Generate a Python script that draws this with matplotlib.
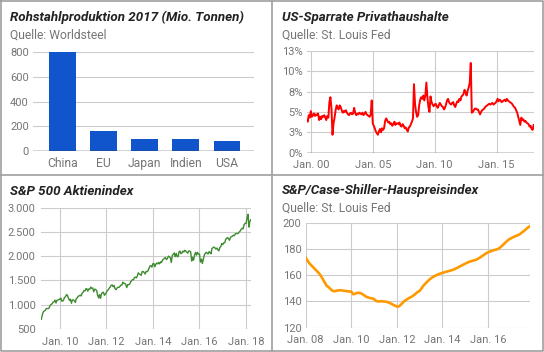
import numpy as np
import pandas as pd
import matplotlib
matplotlib.use("Agg")
import matplotlib.pyplot as plt
import matplotlib.dates as mdates
from matplotlib.lines import Line2D

plt.rcParams['font.family'] = ['Roboto', 'DejaVu Sans']

# --- data -------------------------------------------------------------
steel_countries = ['China', 'EU', 'Japan', 'Indien', 'USA']
steel_output = [800, 163, 98, 98, 81]

# US personal saving rate in %, monthly from Sep 1999
saving_rate = [
    4.0, 3.8, 4.6, 4.3,                                         # 1999 Sep-Dec
    5.1, 4.4, 4.6, 4.8, 4.5, 4.7, 4.6, 4.8, 4.0, 4.4, 4.1, 4.5,  # 2000
    4.4, 4.6, 4.3, 4.0, 4.5, 4.3, 6.2, 6.8, 5.4, 2.2, 3.6, 4.3,  # 2001
    5.2, 5.8, 5.5, 5.3, 5.8, 5.6, 5.2, 4.9, 5.1, 5.0, 5.2, 4.9,  # 2002
    4.7, 4.6, 4.8, 4.9, 4.7, 4.8, 5.5, 4.9, 4.6, 4.8, 4.7, 4.9,  # 2003
    4.8, 4.7, 4.9, 4.6, 4.8, 5.0, 4.7, 4.6, 4.5, 4.4, 4.7, 6.4,  # 2004
    3.6, 3.3, 3.0, 2.6, 2.4, 2.2, 2.6, 2.9, 2.5, 3.0, 2.8, 3.0,  # 2005
    3.9, 4.2, 4.0, 3.7, 3.8, 3.5, 3.6, 3.3, 3.5, 3.8, 3.4, 3.6,  # 2006
    3.6, 3.5, 3.7, 3.3, 3.2, 3.5, 3.3, 3.0, 3.1, 2.8, 2.6, 3.1,  # 2007
    3.2, 3.5, 3.8, 4.2, 8.4, 6.0, 5.0, 4.4, 4.6, 5.8, 6.5, 6.8,  # 2008
    6.6, 7.0, 6.4, 7.0, 8.6, 6.8, 5.6, 5.0, 6.9, 6.2, 5.9, 5.7,  # 2009
    5.9, 6.0, 5.7, 5.5, 5.8, 6.1, 5.9, 5.7, 5.6, 5.3, 5.5, 5.9,  # 2010
    6.4, 6.6, 6.2, 6.0, 5.9, 6.1, 6.2, 5.8, 5.6, 6.0, 6.3, 6.2,  # 2011
    6.6, 6.4, 6.9, 7.0, 7.2, 7.7, 7.4, 7.0, 7.6, 8.0, 8.6, 11.0, # 2012
    4.9, 5.0, 5.2, 5.4, 5.4, 5.3, 5.3, 5.0, 4.7, 5.0, 5.2, 5.3,  # 2013
    5.4, 5.6, 5.7, 5.8, 5.9, 6.0, 5.9, 6.0, 6.1, 5.9, 6.0, 6.1,  # 2014
    6.3, 6.6, 6.3, 6.5, 6.4, 6.2, 6.3, 6.4, 6.5, 6.3, 6.6, 6.4,  # 2015
    6.3, 6.2, 6.1, 6.0, 5.8, 5.6, 5.5, 5.2, 4.9, 4.4, 3.9, 3.4,  # 2016
    4.3, 4.0, 4.1, 3.8, 3.9, 3.7, 3.6, 3.5, 3.2, 3.3, 2.9, 2.8,  # 2017
    3.4,                                                         # 2018 Jan
]

# S&P 500, semi-monthly (1st / 15th) from mid-March 2009
sp500 = [
    700, 798, 852, 873, 882, 919, 923, 919, 932, 987, 1005, 1021,
    1053, 1057, 1096, 1036, 1093, 1096, 1108, 1115,
    1136, 1074, 1075, 1104, 1150, 1169, 1211, 1187, 1136, 1089, 1115, 1031,
    1096, 1102, 1080, 1049, 1125, 1141, 1176, 1183, 1197, 1181, 1236, 1258,
    1293, 1286, 1332, 1327, 1281, 1326, 1320, 1364, 1338, 1345, 1266, 1321,
    1316, 1292, 1204, 1140, 1209, 1131, 1224, 1253, 1257, 1195, 1216, 1258,
    1289, 1312, 1343, 1366, 1402, 1408, 1370, 1398, 1330, 1310, 1343, 1362,
    1357, 1379, 1405, 1407, 1465, 1441, 1440, 1412, 1353, 1416, 1413, 1426,
    1472, 1498, 1519, 1515, 1560, 1569, 1553, 1598, 1658, 1631, 1626, 1606,
    1682, 1686, 1661, 1633, 1688, 1682, 1698, 1757, 1798, 1806, 1775, 1848,
    1848, 1783, 1838, 1859, 1841, 1872, 1842, 1884, 1870, 1924, 1937, 1960,
    1973, 1931, 1955, 2003, 1984, 1972, 1870, 2018, 2039, 2068, 1990, 2059,
    1992, 1995, 2097, 2105, 2053, 2068, 2106, 2086, 2123, 2107, 2084, 2063,
    2108, 2104, 2092, 1900, 1979, 1920, 2023, 2079, 2023, 2080, 2043, 2044,
    1880, 1940, 1850, 1932, 2016, 2060, 2081, 2065, 2047, 2097, 2072, 2050,
    2162, 2174, 2190, 2171, 2147, 2168, 2133, 2110, 2180, 2199, 2262, 2239,
    2275, 2279, 2349, 2364, 2385, 2363, 2329, 2384, 2402, 2412, 2433, 2423,
    2459, 2470, 2465, 2472, 2500, 2519, 2553, 2575, 2565, 2648, 2676, 2674,
    2777, 2862, 2600, 2714, 2750,
]

# S&P/Case-Shiller house price index, monthly from Jan 2008
case_shiller = [
    173.2, 171.0, 169.0, 167.5, 166.0, 164.5, 163.0, 161.5, 159.5, 157.0, 154.5, 152.0,
    151.0, 149.5, 148.3, 147.8, 148.0, 148.4, 148.6, 148.4, 148.2, 148.0, 147.8, 147.6,
    147.5, 145.5, 145.8, 146.5, 146.6, 146.3, 145.5, 144.5, 143.5, 143.0, 142.6, 142.3,
    141.8, 140.5, 140.0, 140.1, 140.2, 140.0, 139.9, 139.6, 139.0, 138.3, 137.5, 136.8,
    136.2, 136.1, 137.3, 138.8, 140.3, 141.3, 142.2, 143.0, 143.8, 144.8, 146.0, 147.3,
    148.0, 150.0, 152.0, 153.5, 155.0, 156.4, 157.6, 158.6, 159.4, 160.1, 160.8, 161.3,
    161.7, 162.2, 162.6, 163.0, 163.4, 163.8, 164.3, 165.0, 165.7, 166.5, 167.3, 168.0,
    168.8, 169.5, 170.1, 170.6, 171.0, 171.4, 171.9, 172.7, 173.6, 174.6, 175.6, 176.6,
    177.4, 178.0, 178.5, 179.0, 179.4, 179.8, 180.6, 181.8, 183.2, 184.6, 186.0, 187.2,
    188.0, 188.8, 189.4, 190.0, 190.6, 191.4, 192.6, 193.8, 195.0, 196.2, 197.3,
]

saving_dates = pd.date_range("1999-09-01", periods=len(saving_rate), freq="MS")
sp_dates = pd.date_range("2009-03-15", periods=len(sp500), freq="SMS")
cs_dates = pd.date_range("2008-01-01", periods=len(case_shiller), freq="MS")

# --- layout helpers ---------------------------------------------------
W, H = 544, 352
fig = plt.figure(figsize=(W / 100, H / 100), dpi=100)

GRID = '#cccccc'
LABEL = '#757575'
TITLE = '#222222'


def add_panel(x0, x1, ytop, ybot):
    ax = fig.add_axes([x0 / W, 1 - ybot / H, (x1 - x0) / W, (ybot - ytop) / H])
    ax.set_facecolor('none')
    for s in ax.spines.values():
        s.set_visible(False)
    ax.tick_params(length=0, labelsize=8, labelcolor=LABEL)
    ax.grid(True, color=GRID, linewidth=0.8)
    ax.set_axisbelow(True)
    return ax


def titles(x, ybase, title, sub=None):
    fig.text(x / W, 1 - ybase / H, title, fontsize=9.6, fontweight='bold',
             fontstyle='italic', color=TITLE, va='baseline', ha='left')
    if sub:
        fig.text(x / W, 1 - (ybase + 17.6) / H, sub, fontsize=8.7,
                 color=LABEL, va='baseline', ha='left')


def date_ticks(ax, years, fmt):
    pos = [mdates.date2num(pd.Timestamp(f"{y}-01-01")) for y in years]
    ax.set_xticks(pos)
    ax.set_xticklabels([fmt(y) for y in years])


# --- panel 1: steel ---------------------------------------------------
ax1 = add_panel(33, 254, 52.3, 151)
ax1.bar(range(len(steel_countries)), steel_output, width=0.65, color='#1155cc', zorder=2)
ax1.set_xlim(-0.72, 4.66)
ax1.set_ylim(0, 800)
ax1.set_yticks([0, 200, 400, 600, 800])
ax1.set_xticks(range(len(steel_countries)))
ax1.set_xticklabels(steel_countries, fontsize=8.7)
ax1.grid(False, axis='x')
ax1.axhline(0, color='#333333', linewidth=1, zorder=3)
ax1.tick_params(axis='y', pad=3)
ax1.tick_params(axis='x', pad=4)
titles(10, 20.7, 'Rohstahlproduktion 2017 (Mio. Tonnen)', 'Quelle: Worldsteel')

# --- panel 2: saving rate --------------------------------------------
ax2 = add_panel(306.7, 533.7, 50.7, 152.7)
ax2.plot(saving_dates, saving_rate, color='#ff0000', linewidth=1.4, zorder=2)
ax2.set_xlim(saving_dates[0], saving_dates[-1])
ax2.set_ylim(0, 12.5)
ax2.set_yticks([0, 2.5, 5, 7.5, 10, 12.5])
ax2.set_yticklabels(['0%', '3%', '5%', '8%', '10%', '13%'])
date_ticks(ax2, [2000, 2005, 2010, 2015], lambda y: f"Jan. {y % 100:02d}")
ax2.axhline(0, color='#333333', linewidth=1, zorder=3)
ax2.tick_params(axis='y', pad=3)
ax2.tick_params(axis='x', pad=5)
titles(282, 20.7, 'US-Sparrate Privathaushalte', 'Quelle: St. Louis Fed')

# --- panel 3: S&P 500 -------------------------------------------------
ax3 = add_panel(41.3, 250.7, 207.7, 329)
ax3.plot(sp_dates, sp500, color='#3d8b2f', linewidth=1.0, zorder=2)
ax3.set_xlim(sp_dates[0], sp_dates[-1])
ax3.set_ylim(500, 3000)
ax3.set_yticks([500, 1000, 1500, 2000, 2500, 3000])
ax3.set_yticklabels(['500', '1.000', '1.500', '2.000', '2.500', '3.000'])
date_ticks(ax3, [2010, 2012, 2014, 2016, 2018], lambda y: f"Jan. {y % 100:02d}")
ax3.tick_params(axis='y', pad=4)
ax3.tick_params(axis='x', pad=6)
titles(10, 195, 'S&P 500 Aktienindex')

# --- panel 4: Case-Shiller -------------------------------------------
ax4 = add_panel(305.7, 529.7, 222.7, 327.7)
ax4.plot(cs_dates, case_shiller, color='#ff9900', linewidth=1.9, zorder=2)
ax4.set_xlim(cs_dates[0], cs_dates[-1])
ax4.set_ylim(120, 200)
ax4.set_yticks([120, 140, 160, 180, 200])
date_ticks(ax4, [2008, 2010, 2012, 2014, 2016], lambda y: f"Jan. {y % 100:02d}")
ax4.tick_params(axis='y', pad=3)
ax4.tick_params(axis='x', pad=5)
titles(282, 194.3, 'S&P/Case-Shiller-Hauspreisindex', 'Quelle: St. Louis Fed')

# --- panel borders ----------------------------------------------------
BORDER = '#9e9e9e'


def fline(xs, ys):
    fig.add_artist(Line2D([x / W for x in xs], [1 - y / H for y in ys],
                          color=BORDER, linewidth=1.2))


fline([0.7, 542.5, 542.5, 0.7, 0.7], [0.7, 0.7, 350.5, 350.5, 0.7])
fline([272, 272], [0, 351])
fline([0, 543], [175, 175])

fig.savefig('out.png', dpi=100)
